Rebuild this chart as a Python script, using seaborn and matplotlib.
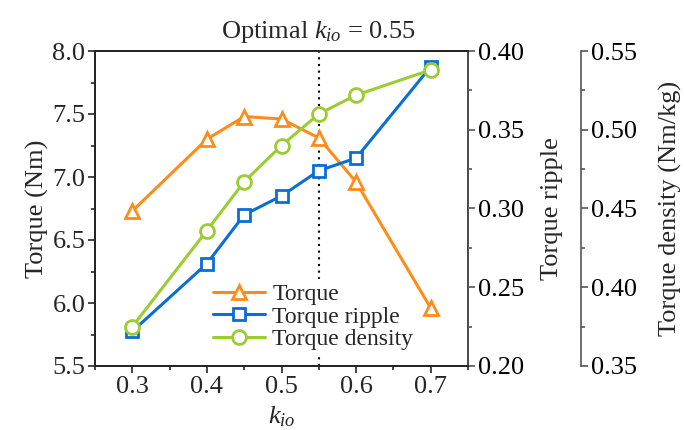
import matplotlib
matplotlib.use("Agg")
import matplotlib.pyplot as plt
from matplotlib.ticker import MultipleLocator
import seaborn as sns
import pandas as pd

k_io = [0.3, 0.4, 0.45, 0.5, 0.55, 0.6, 0.7]
torque = [6.73, 7.30, 7.48, 7.46, 7.31, 6.96, 5.96]
ripple = [0.222, 0.265, 0.296, 0.308, 0.324, 0.332, 0.390]
density = [0.375, 0.436, 0.467, 0.490, 0.510, 0.522, 0.538]

c_torque = "#FF8C1A"
c_ripple = "#0A6ED6"
c_density = "#9ACD32"

sns.set_theme(style="ticks")
plt.rcParams["font.family"] = ["Liberation Serif", "DejaVu Serif"]
plt.rcParams["mathtext.fontset"] = "custom"
plt.rcParams["mathtext.rm"] = "Liberation Serif"
plt.rcParams["mathtext.it"] = "Liberation Serif:italic"
plt.rcParams["axes.linewidth"] = 1.2

df = pd.DataFrame({"k": k_io, "torque": torque, "ripple": ripple, "density": density})

fig = plt.figure(figsize=(6.84, 4.30), dpi=100)
ax = fig.add_axes([95/684, 1-366/430, (468-95)/684, (366-51)/430])
ax2 = ax.twinx()
ax3 = ax.twinx()
ax3.spines["right"].set_position(("axes", 1 + (581-468)/373))

fs = 19
lw = 2.2
ms = 10
mew = 2

sns.lineplot(data=df, x="k", y="torque", ax=ax, color=c_torque, marker="^",
             markersize=ms, markerfacecolor="white", markeredgecolor=c_torque,
             markeredgewidth=mew, linewidth=lw, label="Torque", legend=False, zorder=3)
sns.lineplot(data=df, x="k", y="ripple", ax=ax2, color=c_ripple, marker="s",
             markersize=ms-1, markerfacecolor="white", markeredgecolor=c_ripple,
             markeredgewidth=mew, linewidth=lw, label="Torque ripple", legend=False)
sns.lineplot(data=df, x="k", y="density", ax=ax3, color=c_density, marker="o",
             markersize=ms, markerfacecolor="white", markeredgecolor=c_density,
             markeredgewidth=mew, linewidth=lw, label="Torque density", legend=False)

ax.set_xlim(0.25, 0.75)
ax.set_ylim(5.5, 8.0)
ax2.set_ylim(0.20, 0.40)
ax3.set_ylim(0.35, 0.55)

ax.xaxis.set_major_locator(MultipleLocator(0.1))
ax.xaxis.set_minor_locator(MultipleLocator(0.05))
ax.yaxis.set_major_locator(MultipleLocator(0.5))
ax.yaxis.set_minor_locator(MultipleLocator(0.25))
ax2.yaxis.set_major_locator(MultipleLocator(0.05))
ax2.yaxis.set_minor_locator(MultipleLocator(0.025))
ax3.yaxis.set_major_locator(MultipleLocator(0.05))
ax3.yaxis.set_minor_locator(MultipleLocator(0.025))

ax.set_xticks([0.3, 0.4, 0.5, 0.6, 0.7])
ax.set_xticklabels(["0.3", "0.4", "0.5", "0.6", "0.7"])
ax.set_yticklabels([f"{v:.1f}" for v in ax.get_yticks()])
ax2.set_yticklabels([f"{v:.2f}" for v in ax2.get_yticks()])
ax3.set_yticklabels([f"{v:.2f}" for v in ax3.get_yticks()])

for a in (ax, ax2, ax3):
    a.tick_params(axis="both", which="major", direction="out", length=5, width=1.2,
                  labelsize=fs, pad=2)
    a.tick_params(axis="both", which="minor", direction="out", length=3, width=1.2)
    a.set_xlabel("")

ax.set_xlabel("$k_{io}$", fontsize=fs, labelpad=5)
ax.set_ylabel("Torque (Nm)", fontsize=fs, labelpad=2)
ax2.set_ylabel("Torque ripple", fontsize=fs, labelpad=12)
ax3.set_ylabel("Torque density (Nm/kg)", fontsize=fs, labelpad=16)

for s in ("top", "left", "bottom", "right"):
    ax.spines[s].set_color("black")
ax2.spines["right"].set_color("#555555")
ax3.spines["right"].set_color("#555555")
ax3.spines["right"].set_linewidth(1.2)
ax2.tick_params(axis="y", which="both", colors="#555555", labelcolor="black")
ax3.tick_params(axis="y", which="both", colors="#555555", labelcolor="black")

ax.axvline(0.55, ymin=0, ymax=1.017, color="black", linestyle=(0, (1, 2.2)),
           linewidth=1.5, clip_on=False, zorder=0.5)
ax.text(0.55, 1.02, "Optimal $k_{io}$ = 0.55", transform=ax.get_xaxis_transform(),
        ha="center", va="bottom", fontsize=fs)

handles = []
labels = []
for a in (ax, ax2, ax3):
    h, l = a.get_legend_handles_labels()
    handles += h
    labels += l
leg = ax.legend(handles, labels, loc="lower center", bbox_to_anchor=(0.585, 0.02),
                fontsize=17, frameon=True, framealpha=1, edgecolor="none",
                facecolor="white", handlelength=2.2, handletextpad=0.3,
                labelspacing=0.05, borderpad=0.2, borderaxespad=0.2)
leg.set_zorder(1)

fig.savefig("out.png", dpi=100)
